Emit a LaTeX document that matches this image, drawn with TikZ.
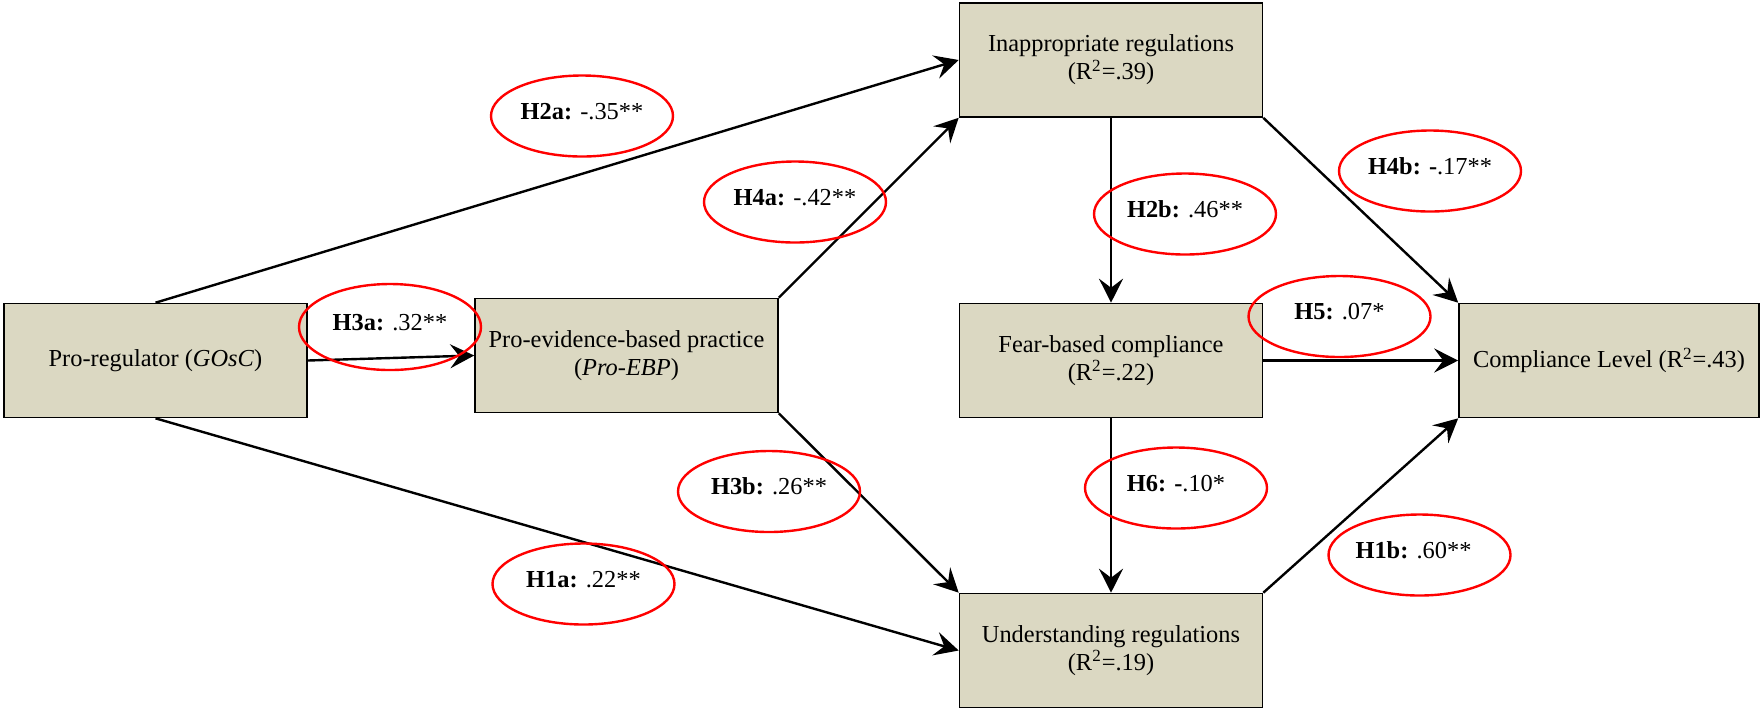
\documentclass[tikz,border=0pt]{standalone}
\usepackage{fontspec}
\setmainfont{Liberation Serif}
\usepackage{tikz}
\usetikzlibrary{shapes,arrows.meta}
\definecolor{boxfill}{RGB}{219,216,194}

\begin{document}
\begin{tikzpicture}[%
  x=0.5pt, y=-0.5pt,
  font=\fontsize{12.2}{14}\selectfont,
  construct/.style={draw, line width=0.8pt, fill=boxfill, align=center,
    minimum width=151.5pt, minimum height=57pt, inner sep=2pt},
  effect/.style={line width=1.2pt, -{Stealth[length=12pt,width=12pt,inset=4.5pt]}},
  hyp/.style={ellipse, draw=red, line width=1.2pt, minimum width=91pt,
    minimum height=40.5pt, inner sep=0pt, text depth=5pt}]
  \useasboundingbox (0,0) rectangle (1761,709);
  \node[construct] (gosc) at (155.5,360.5) {Pro-regulator (\textit{GOsC})};
  \node[construct] (pebp) at (626.5,355.5) {Pro-evidence-based practice\\(\textit{Pro-EBP})};
  \node[construct] (inapp) at (1111,60) {Inappropriate regulations\\(R\textsuperscript{2}=.39)};
  \node[construct] (fear) at (1111,360.5) {Fear-based compliance\\(R\textsuperscript{2}=.22)};
  \node[construct] (under) at (1111,650.5) {Understanding regulations\\(R\textsuperscript{2}=.19)};
  \node[construct, minimum width=150pt] (comp) at (1609,360.5) {Compliance Level (R\textsuperscript{2}=.43)};

  \draw[effect] (gosc.north) -- (inapp.west);
  \draw[effect] (gosc.east) -- (pebp.west);
  \draw[effect] (gosc.south) -- (under.west);
  \draw[effect] (pebp.north east) -- (inapp.south west);
  \draw[effect] (pebp.south east) -- (under.north west);
  \draw[effect] (inapp.south) -- (fear.north);
  \draw[effect] (inapp.south east) -- (comp.north west);
  \draw[effect] (fear.east) -- (comp.west);
  \draw[effect] (fear.south) -- (under.north);
  \draw[effect] (under.north east) -- (comp.south west);

  \node[hyp] (h2a) at (582,116) {\textbf{H2a:} -.35**};
  \node[hyp] (h4a) at (795,202) {\textbf{H4a:} -.42**};
  \node[hyp, minimum height=43pt] (h3a) at (390,327) {\textbf{H3a:} .32**};
  \node[hyp] (h3b) at (769,491.5) {\textbf{H3b:} .26**};
  \node[hyp] (h1a) at (583.5,584) {\textbf{H1a:} .22**};
  \node[hyp] (h2b) at (1185,214) {\textbf{H2b:} .46**};
  \node[hyp] (h4b) at (1430,171) {\textbf{H4b: -}.17**};
  \node[hyp] (h5) at (1339.5,316.5) {\textbf{H5:} .07*};
  \node[hyp] (h6) at (1176,488) {\textbf{H6: -}.10*};
  \node[hyp] (h1b) at (1419.5,555) {\textbf{H1b:} .60**\kern6pt};
\end{tikzpicture}
\end{document}
